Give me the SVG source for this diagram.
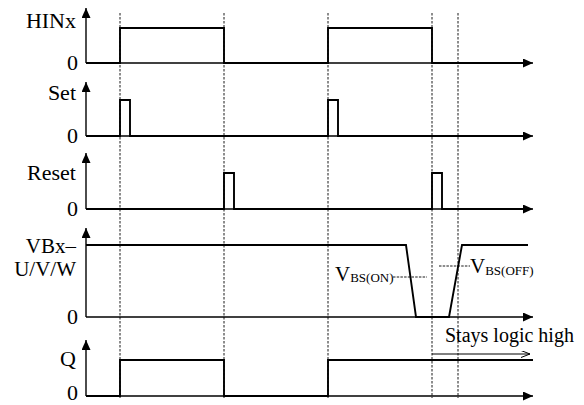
<svg xmlns="http://www.w3.org/2000/svg" width="584" height="405" viewBox="0 0 584 405">
<style>
text{font-family:"Liberation Serif","Times New Roman",serif;font-size:20px;fill:#000}
.lbl{text-anchor:end;font-size:22px}
.sub{font-size:13px}
.axis{fill:none;stroke:#000;stroke-width:1.4}
.sig{fill:none;stroke:#000;stroke-width:1.9;stroke-linejoin:miter}
.grid{fill:none;stroke:#000;stroke-width:0.9;stroke-dasharray:2.5 1.5}
.lead{fill:none;stroke:#000;stroke-width:0.9;stroke-dasharray:2.5 1.2}
</style>
<defs>
<marker id="ah" markerUnits="userSpaceOnUse" markerWidth="11" markerHeight="10" refX="10" refY="4.5" orient="auto">
<path d="M0,0 L10,4.5 L0,9 Z" fill="#000"/>
</marker>
<marker id="oa" markerUnits="userSpaceOnUse" markerWidth="10" markerHeight="8" refX="9" refY="3.5" orient="auto">
<path d="M0,0 L9,3.5 L0,7" fill="none" stroke="#000" stroke-width="1"/>
</marker>
</defs>
<g id="grid">
<line class="grid" x1="120" y1="13" x2="120" y2="398"/>
<line class="grid" x1="224" y1="13" x2="224" y2="398"/>
<line class="grid" x1="328" y1="13" x2="328" y2="398"/>
<line class="grid" x1="432" y1="13" x2="432" y2="398"/>
<line class="grid" x1="458" y1="13" x2="458" y2="398"/>
</g>
<g id="axes">
<path class="axis" d="M86,63 V8" marker-end="url(#ah)"/>
<path class="axis" d="M86,63 H533" marker-end="url(#ah)"/>
<path class="axis" d="M86,136 V82" marker-end="url(#ah)"/>
<path class="axis" d="M86,136 H533" marker-end="url(#ah)"/>
<path class="axis" d="M86,209 V153" marker-end="url(#ah)"/>
<path class="axis" d="M86,209 H533" marker-end="url(#ah)"/>
<path class="axis" d="M86,317 V228" marker-end="url(#ah)"/>
<path class="axis" d="M86,317 H533" marker-end="url(#ah)"/>
<path class="axis" d="M86,396 V340" marker-end="url(#ah)"/>
<path class="axis" d="M86,396 H533" marker-end="url(#ah)"/>
</g>
<g id="HINx">
<path class="sig" d="M86,63 H120 V28 H224 V63 H328 V28 H432 V63 H524"/>
<text class="lbl" x="76" y="28">HINx</text>
<text class="lbl" x="78" y="70">0</text>
</g>
<g id="Set">
<path class="sig" d="M86,136 H120 V100 H130 V136 H328 V100 H338 V136 H524"/>
<text class="lbl" x="76" y="100">Set</text>
<text class="lbl" x="78" y="143">0</text>
</g>
<g id="Reset">
<path class="sig" d="M86,209 H224 V173 H234 V209 H432 V173 H442 V209 H524"/>
<text class="lbl" x="76" y="180">Reset</text>
<text class="lbl" x="78" y="216">0</text>
</g>
<g id="VBx">
<path class="sig" d="M86,245 H406 L416,317 H449 L462,245 H528"/>
<text class="lbl" x="76" y="253" style="font-size:21px">VBx–</text>
<text class="lbl" x="76" y="276" style="font-size:21px">U/V/W</text>
<text class="lbl" x="78" y="324">0</text>
</g>
<g id="VBSON">
<text x="335" y="281" style="font-size:21px">V<tspan class="sub" dy="1">BS(ON)</tspan></text>
<line class="lead" x1="393" y1="277" x2="427" y2="277"/>
</g>
<g id="VBSOFF">
<line class="lead" x1="439" y1="266" x2="470" y2="266"/>
<text x="470" y="273" style="font-size:21px">V<tspan class="sub" dy="2">BS(OFF)</tspan></text>
</g>
<g id="Q">
<path class="sig" d="M86,396 H120 V360 H224 V396 H328 V360 H533"/>
<text class="lbl" x="76" y="366">Q</text>
<text class="lbl" x="78" y="400">0</text>
</g>
<g id="stays">
<path class="axis" style="stroke-width:1" d="M432,354 H530" marker-end="url(#oa)"/>
<text x="445" y="342">Stays logic high</text>
</g>
</svg>
